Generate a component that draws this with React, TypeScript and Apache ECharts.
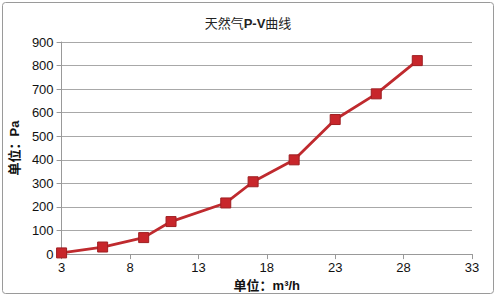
import React, { useEffect, useRef } from "react";
import * as echarts from "echarts";

const titleMain = "天然气";
const titleBold = "P-V";
const titleTail = "曲线";
const xName = "单位：m³/h";
const yName = "单位：Pa";
const flowValues = [3, 6, 9, 11, 15, 17, 20, 23, 26, 29];
const pressureValues = [5, 30, 70, 138, 217, 307, 400, 571, 680, 821];

export default function App() {
  const ref = useRef<HTMLDivElement>(null);
  useEffect(() => {
    if (!ref.current) return;
    const chart = echarts.init(ref.current, undefined, { renderer: "svg" });
    const font = "Arial, 'Liberation Sans', 'Noto Sans CJK SC', sans-serif";
    chart.setOption({
      animation: false,
      backgroundColor: "#ffffff",
      title: {
        text: titleMain + "{b|" + titleBold + "}" + titleTail,
        left: "center",
        top: 12,
        textStyle: {
          fontSize: 13,
          fontWeight: "normal",
          color: "#222",
          fontFamily: font,
          rich: { b: { fontSize: 13, fontWeight: "bold", color: "#222", fontFamily: font } },
        },
      },
      grid: { left: 59, right: 24, top: 42, bottom: 41.5 },
      graphic: [
        {
          type: "rect",
          shape: { x: 2.5, y: 2.5, width: 491, height: 291, r: 3 },
          style: { fill: "none", stroke: "#9a9a9a", lineWidth: 1 },
          silent: true,
        },
      ],
      xAxis: {
        type: "value",
        min: 3,
        max: 33,
        interval: 5,
        name: xName,
        nameLocation: "middle",
        nameGap: 24,
        nameTextStyle: { fontSize: 13, fontWeight: "bold", color: "#111", fontFamily: font },
        axisLine: { show: true, lineStyle: { color: "#999", width: 1 } },
        axisTick: { show: true, length: 5, lineStyle: { color: "#999" } },
        axisLabel: { fontSize: 13, color: "#111", margin: 7, fontFamily: font },
        splitLine: { show: false },
      },
      yAxis: {
        type: "value",
        min: 0,
        max: 900,
        interval: 100,
        name: yName,
        nameLocation: "middle",
        nameGap: 34,
        nameTextStyle: { fontSize: 13, fontWeight: "bold", color: "#111", fontFamily: font },
        axisLine: { show: true, lineStyle: { color: "#999", width: 1 } },
        axisTick: { show: true, length: 5, lineStyle: { color: "#999" } },
        axisLabel: { fontSize: 13, color: "#111", margin: 8, fontFamily: font },
        splitLine: { show: true, lineStyle: { color: "#a8a8a8", width: 1 } },
      },
      series: [
        {
          type: "line",
          data: flowValues.map((x, i) => [x, pressureValues[i]]),
          symbol: "rect",
          symbolSize: 10,
          lineStyle: { color: "#bf2a2e", width: 2.8 },
          itemStyle: { color: "#c8262b", borderColor: "#9e1f22", borderWidth: 1 },
        },
      ],
    });
    return () => chart.dispose();
  }, []);
  return (
    <div
      ref={ref}
      style={{ position: "fixed", left: 0, top: 0, width: 496, height: 297 }}
    />
  );
}
